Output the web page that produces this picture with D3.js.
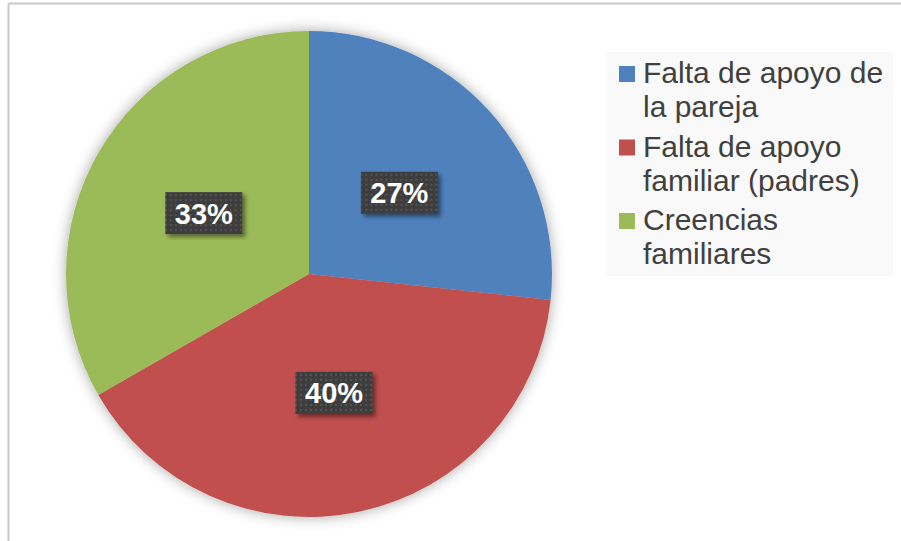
<!DOCTYPE html>
<html>
<head>
<meta charset="utf-8">
<script src="https://cdn.jsdelivr.net/npm/d3@7"></script>
<style>
  body { margin: 0; background: #fff; }
  svg { display: block; font-family: "Liberation Sans", Arial, sans-serif; }
</style>
</head>
<body>
<script>
// data
var categories = ["Falta de apoyo de la pareja", "Falta de apoyo familiar (padres)", "Creencias familiares"];
var legendLines = [["Falta de apoyo de", "la pareja"], ["Falta de apoyo", "familiar (padres)"], ["Creencias", "familiares"]];
var values = [26.7, 40, 33.3];
var colors = ["#4f81bd", "#c0504d", "#9bbb59"];

var width = 901, height = 541;
var cx = 309, cy = 274, radius = 243;

var svg = d3.select("body").append("svg")
    .attr("width", width)
    .attr("height", height);

var defs = svg.append("defs");

// soft shadow round the pie
var pieShadow = defs.append("filter").attr("id", "pieShadow")
    .attr("x", "-20%").attr("y", "-20%").attr("width", "140%").attr("height", "140%");
pieShadow.append("feDropShadow")
    .attr("dx", 0).attr("dy", 0).attr("stdDeviation", 7)
    .attr("flood-color", "#000").attr("flood-opacity", 0.35);

// label box shadow
var boxShadow = defs.append("filter").attr("id", "boxShadow")
    .attr("x", "-30%").attr("y", "-30%").attr("width", "160%").attr("height", "160%");
boxShadow.append("feDropShadow")
    .attr("dx", 3).attr("dy", 3).attr("stdDeviation", 2)
    .attr("flood-color", "#000").attr("flood-opacity", 0.45);

// dotted dark fill of the labels
var pat = defs.append("pattern").attr("id", "dots")
    .attr("width", 5).attr("height", 5)
    .attr("patternUnits", "userSpaceOnUse");
pat.append("rect").attr("width", 5).attr("height", 5).attr("fill", "#3d3d3d");
pat.append("rect").attr("x", 1).attr("y", 1).attr("width", 2).attr("height", 2).attr("fill", "#535353");

// chart border (only left and top visible)
svg.append("line")
    .attr("x1", 8.5).attr("y1", 3.5).attr("x2", 8.5).attr("y2", height)
    .attr("stroke", "#c8c8c8").attr("stroke-width", 2);
svg.append("line")
    .attr("x1", 8.5).attr("y1", 3.5).attr("x2", width).attr("y2", 3.5)
    .attr("stroke", "#c8c8c8").attr("stroke-width", 2);

var pie = d3.pie().sort(null).value(function(d) { return d; });
var arc = d3.arc().innerRadius(0).outerRadius(radius);

var g = svg.append("g")
    .attr("transform", "translate(" + cx + "," + cy + ")");

var arcs = pie(values);

g.append("g")
    .attr("filter", "url(#pieShadow)")
  .selectAll("path")
  .data(arcs)
  .enter().append("path")
    .attr("d", arc)
    .attr("fill", function(d, i) { return colors[i]; });

// data labels
var total = d3.sum(values);
var labels = g.selectAll(".lbl")
  .data(arcs)
  .enter().append("g")
    .attr("class", "lbl")
    .attr("transform", function(d) { return "translate(" + arc.centroid(d) + ")"; });

labels.append("rect")
    .attr("x", -38.5).attr("y", -21)
    .attr("width", 77).attr("height", 42)
    .attr("fill", "url(#dots)")
    .attr("filter", "url(#boxShadow)");

labels.append("text")
    .attr("text-anchor", "middle")
    .attr("y", 10.5)
    .attr("fill", "#fff")
    .style("font-size", "29px")
    .style("font-weight", "bold")
    .text(function(d) { return Math.round(d.value / total * 100) + "%"; });

// legend
var legend = svg.append("g");
legend.append("rect")
    .attr("x", 607).attr("y", 52)
    .attr("width", 286).attr("height", 224)
    .attr("fill", "#f9f9f9");

var item = legend.selectAll(".item")
  .data(categories)
  .enter().append("g")
    .attr("class", "item")
    .attr("transform", function(d, i) { return "translate(619," + (83 + i * 73.5) + ")"; });

item.append("rect")
    .attr("x", 0).attr("y", -17)
    .attr("width", 16).attr("height", 16)
    .attr("fill", function(d, i) { return colors[i]; });

item.append("text")
    .attr("x", 24)
    .attr("fill", "#404040")
    .style("font-size", "30px")
  .selectAll("tspan")
  .data(function(d, i) { return legendLines[i]; })
  .enter().append("tspan")
    .attr("x", 24)
    .attr("dy", function(d, j) { return j === 0 ? 0 : 34; })
    .text(function(d) { return d; });
</script>
</body>
</html>
